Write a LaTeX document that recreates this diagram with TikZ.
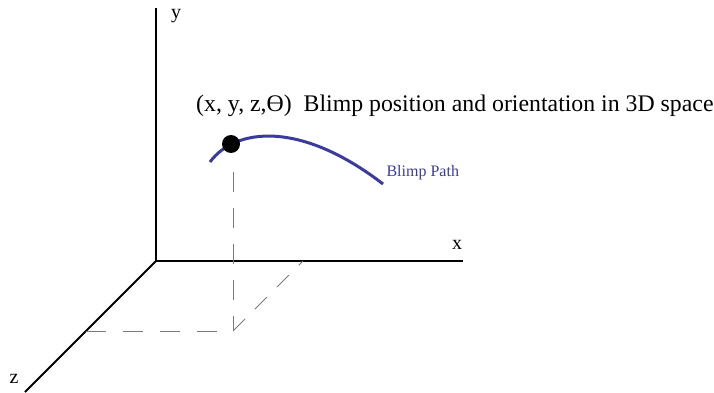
\documentclass[tikz,border=0pt]{standalone}
\usepackage{fontspec}
\setmainfont{Liberation Serif}
\usetikzlibrary{positioning}
\definecolor{path-blue}{HTML}{3B3B9C}
\definecolor{guide-gray}{HTML}{7A7A7A}

\begin{document}
\begin{tikzpicture}[x=1pt, y=-1pt]
    \useasboundingbox (0,0) rectangle (714,393);
    % axes
    \coordinate (O) at (156,261);
    \coordinate (yend) at (156,8);
    \coordinate (xend) at (463,261);
    \coordinate (zend) at (25,392);
    \draw[black, line width=1.8pt] (yend) -- (O) -- (xend);
    \draw[black, line width=1.8pt] (O) -- (zend);
    \node[font=\fontsize{20}{20}\selectfont] (ylab) at (176,16) {y};
    \node[font=\fontsize{20}{20}\selectfont] (xlab) at (457,245) {x};
    \node[font=\fontsize{20}{20}\selectfont] (zlab) at (14,379) {z};
    % projection of the blimp
    \coordinate (drop) at (233,172);
    \coordinate (foot) at (233,331);
    \coordinate (zfoot) at (86,331);
    \coordinate (xfoot) at (303,261);
    \draw[guide-gray, line width=0.8pt, dash pattern=on 20pt off 16pt] (drop) -- (foot);
    \draw[guide-gray, line width=0.8pt, dash pattern=on 20pt off 17pt] (zfoot) -- (foot);
    \draw[guide-gray, line width=0.8pt, dash pattern=on 17pt off 14pt] (foot) -- (xfoot);
    % path and blimp
    \coordinate (pstart) at (210,162);
    \coordinate (pend) at (383,184);
    \draw[path-blue, line width=3pt] (pstart) .. controls (235,128) and (300,120) .. (pend);
    \node[circle, fill=black, inner sep=0pt, minimum size=18pt] (blimp) at (231,144) {};
    \node[anchor=west, text=path-blue, font=\fontsize{16}{16}\selectfont] (pathlab) at (383,173) {Blimp Path};
    \node[anchor=base west, font=\fontsize{23.8}{24}\selectfont, inner sep=0pt] (poslab) at (196,112)
        {(x, y, z,ϴ)\ \ Blimp position and orientation in 3D space};
\end{tikzpicture}
\end{document}
